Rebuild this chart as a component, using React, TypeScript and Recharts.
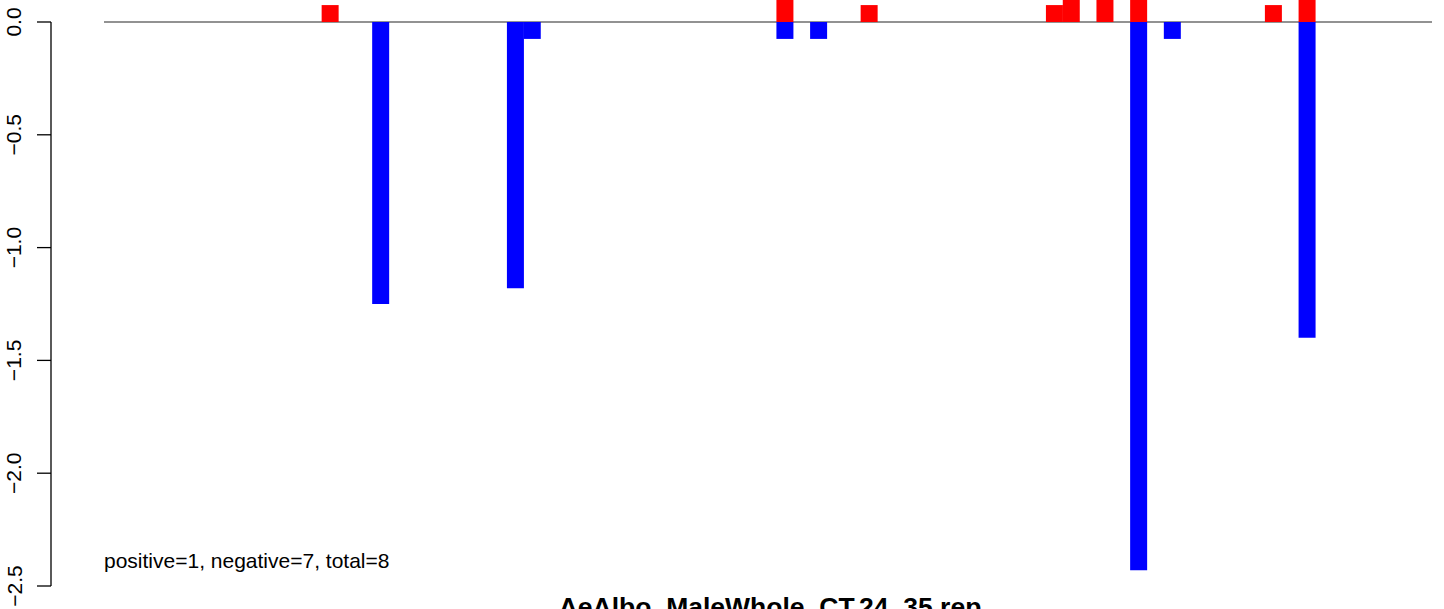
import { Bar, BarChart, CartesianGrid, XAxis, YAxis } from 'recharts'

const W = 1444
const H = 609

// 73 bar slots, read left to right
const categories = Array.from({ length: 73 }, (_, i) => `g${i + 1}`)

// slot index -> value (positive series, red)
const upSlots = [10, 37, 42, 53, 54, 56, 58, 66, 68]
const upValues = [0.075, 0.15, 0.075, 0.075, 0.15, 0.15, 0.15, 0.075, 0.15]

// slot index -> value (negative series, blue)
const downSlots = [13, 21, 22, 37, 39, 58, 60, 68]
const downValues = [-1.25, -1.18, -0.075, -0.075, -0.075, -2.43, -0.075, -1.4]

const yTicks = [0, -0.5, -1, -1.5, -2, -2.5]

const Y_MIN = -2.5
const Y_MAX = 0.0975
const PLOT_BOTTOM = 23
const PX_PER_UNIT = (H - PLOT_BOTTOM) / (Y_MAX - Y_MIN)
const AXIS_X = 51

const FONT = '"Liberation Sans", Arial, Helvetica, sans-serif'

const rows = categories.map((cat, i) => {
  const u = upSlots.indexOf(i)
  const d = downSlots.indexOf(i)
  return {
    cat,
    up: u >= 0 ? upValues[u] : 0,
    down: d >= 0 ? downValues[d] : 0,
  }
})

function YTick(props: any) {
  const { y, payload } = props
  const v = Number(payload.value)
  const label = v.toFixed(1).replace('-', '\u2212')
  return (
    <g>
      <line x1={AXIS_X - 14} x2={AXIS_X} y1={y} y2={y} stroke="#000" strokeWidth={1.3} />
      {v === 0 && (
        <line
          x1={AXIS_X}
          x2={AXIS_X}
          y1={y}
          y2={y + (0 - Y_MIN) * PX_PER_UNIT}
          stroke="#000"
          strokeWidth={1.3}
        />
      )}
      <text
        x={21.5}
        y={y}
        transform={`rotate(-90, 21.5, ${y})`}
        textAnchor="middle"
        fontFamily={FONT}
        fontSize={21}
        fill="#000"
      >
        {label}
      </text>
    </g>
  )
}

export default function App() {
  return (
    <div style={{ position: 'absolute', left: 0, top: 0, width: W, height: H, background: '#fff' }}>
      <BarChart
        width={W}
        height={H}
        data={rows}
        stackOffset="sign"
        barCategoryGap={0}
        barGap={0}
        margin={{ top: 0, right: 12, bottom: PLOT_BOTTOM, left: 0 }}
      >
        <CartesianGrid
          vertical={false}
          horizontal
          horizontalValues={[0]}
          stroke="#6e6e6e"
          strokeWidth={1.5}
          strokeDasharray=""
        />
        <XAxis dataKey="cat" hide padding={{ left: 49.2, right: 49.2 }} />
        <YAxis
          type="number"
          domain={[Y_MIN, Y_MAX]}
          allowDataOverflow
          ticks={yTicks}
          interval={0}
          width={104}
          axisLine={false}
          tickLine={false}
          tick={<YTick />}
        />
        <Bar dataKey="up" stackId="s" fill="#ff0000" isAnimationActive={false} />
        <Bar dataKey="down" stackId="s" fill="#0000ff" isAnimationActive={false} />
      </BarChart>
      <div
        style={{
          position: 'absolute',
          left: 104,
          top: 568 - 19,
          fontFamily: FONT,
          fontSize: 21,
          lineHeight: '24px',
          color: '#000',
          whiteSpace: 'nowrap',
        }}
      >
        positive=1, negative=7, total=8
      </div>
      <div
        style={{
          position: 'absolute',
          left: 0,
          width: 1540,
          top: 592,
          textAlign: 'center',
          fontFamily: FONT,
          fontSize: 26.5,
          fontWeight: 'bold',
          lineHeight: '30px',
          color: '#000',
          whiteSpace: 'nowrap',
        }}
      >
        AeAlbo_MaleWhole_CT.24_35.rep
      </div>
    </div>
  )
}
